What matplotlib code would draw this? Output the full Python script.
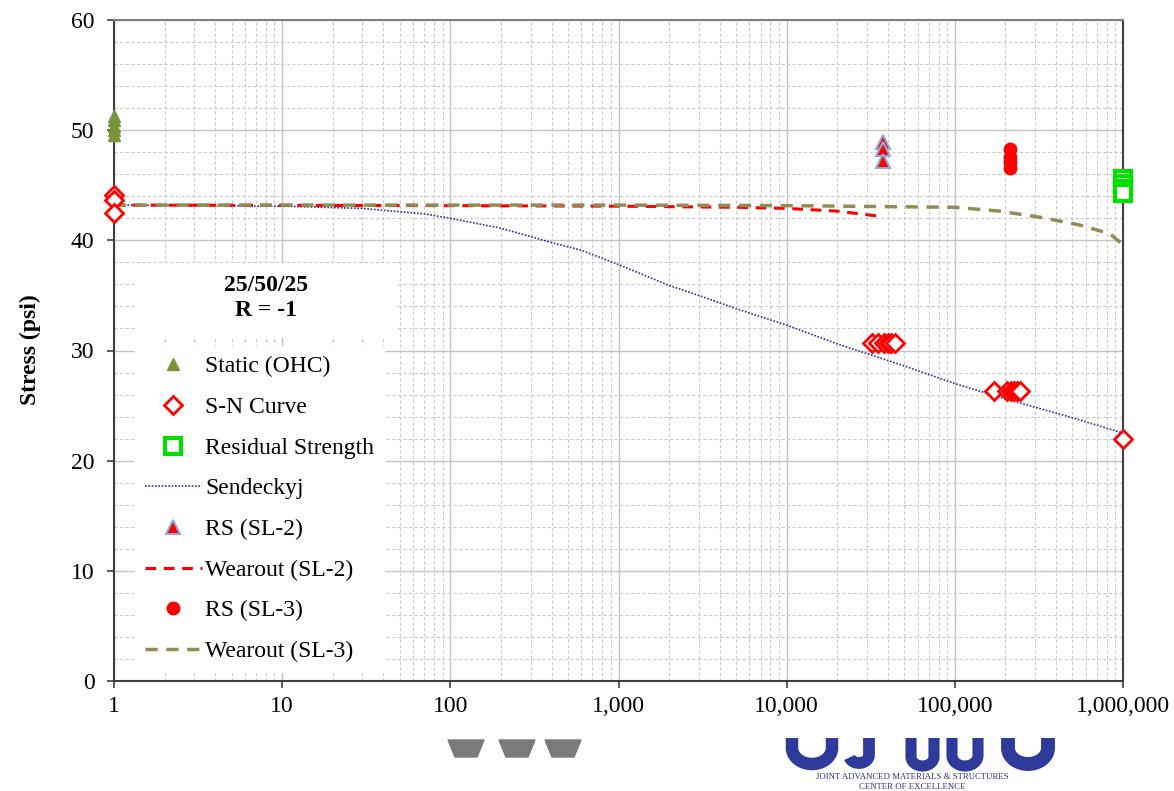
import numpy as np
import matplotlib
matplotlib.use("Agg")
import matplotlib.pyplot as plt
from matplotlib.ticker import FuncFormatter, LogLocator, MultipleLocator, NullFormatter
from matplotlib.patches import Polygon, Rectangle

# --- data (cycles N, stress in psi) ---
static_n = [1, 1, 1, 1, 1]
static_s = [49.6, 50.0, 50.4, 50.9, 51.3]

sn_n = [1, 1, 1,
        32000, 35000, 38000, 40000, 42000, 44000,
        170000, 205000, 215000, 225000, 235000, 245000,
        1000000]
sn_s = [44.1, 43.7, 42.5,
        30.7, 30.7, 30.7, 30.7, 30.7, 30.7,
        26.3, 26.3, 26.3, 26.3, 26.3, 26.3,
        22.0]

resid_n = [1000000, 1000000, 1000000, 1000000]
resid_s = [45.6, 45.1, 44.7, 44.3]

send_n = [1, 10, 30, 70, 100, 200, 400, 600, 1000, 2000, 3000, 5000, 10000,
          20000, 50000, 100000, 200000, 500000, 1000000]
send_s = [43.2, 43.1, 42.9, 42.4, 42.0, 41.1, 39.8, 39.1, 37.8, 35.9, 35.0, 33.8, 32.3,
          30.6, 28.6, 27.0, 25.6, 23.9, 22.5]

rs2_n = [37300, 37300, 37300]
rs2_s = [48.9, 48.3, 47.2]

wear2_n = [1, 100, 1000, 5000, 10000, 20000, 35000]
wear2_s = [43.2, 43.15, 43.1, 43.0, 42.9, 42.65, 42.2]

rs3_n = [212000, 212000, 212000, 212000]
rs3_s = [48.3, 47.6, 47.1, 46.6]

wear3_n = [1, 1000, 10000, 100000, 185000, 320000, 550000, 835000, 1000000]
wear3_s = [43.2, 43.2, 43.15, 43.0, 42.65, 42.1, 41.4, 40.6, 39.6]

W, H = 1174, 791
plt.rcParams['font.family'] = ['Liberation Serif', 'DejaVu Serif']

fig = plt.figure(figsize=(W / 100, H / 100), dpi=100)
fig.patch.set_facecolor('white')


def px(x, y):
    return (x / W, 1 - y / H)


ax = fig.add_axes([114 / W, 1 - 681 / H, (1123 - 114) / W, (681 - 20) / H])

ax.plot(static_n, static_s, ls='none', marker='^', ms=9, color='#77933c',
        label='Static (OHC)', zorder=5, clip_on=False)
ax.plot(sn_n, sn_s, ls='none', marker='D', ms=9, mfc='white', mec='#ff0000',
        mew=2, label='S-N Curve', zorder=6, clip_on=False)
ax.plot(resid_n, resid_s, ls='none', marker='s', ms=11, mfc='white', mec='#00e000',
        mew=3, label='Residual Strength', zorder=6, clip_on=False)
ax.plot(send_n, send_s, ls=(0, (1, 1)), lw=1.2, color='#3030a0', label='Sendeckyj',
        zorder=4)
ax.plot(rs2_n, rs2_s, ls='none', marker='^', ms=10, color='#ff0000', mec='#8eaadb',
        mew=1.5, label='RS (SL-2)', zorder=5)
ax.plot(wear2_n, wear2_s, ls=(0, (3.5, 2.5)), lw=2.2, color='#ff0000',
        label='Wearout (SL-2)', zorder=4)
ax.plot(rs3_n, rs3_s, ls='none', marker='o', ms=9, color='#ff0000',
        label='RS (SL-3)', zorder=5)
ax.plot(wear3_n, wear3_s, ls=(0, (3.5, 2.5)), lw=2.5, color='#948a54',
        label='Wearout (SL-3)', zorder=4)

ax.set_xscale('log')
ax.set_xlim(1, 1e6)
ax.set_ylim(0, 60)
ax.xaxis.set_major_locator(LogLocator(base=10))
ax.xaxis.set_minor_locator(LogLocator(base=10, subs=np.arange(2, 10)))
ax.xaxis.set_minor_formatter(NullFormatter())
ax.xaxis.set_major_formatter(FuncFormatter(lambda v, p: f'{int(round(v)):,}'))
ax.yaxis.set_major_locator(MultipleLocator(10))
ax.yaxis.set_minor_locator(MultipleLocator(2))

ax.grid(which='major', color='#c4c4c4', lw=1.0, ls='-')
ax.grid(which='minor', color='#cccccc', lw=0.8, ls=(0, (3, 2)))
ax.set_axisbelow(True)

ax.tick_params(which='major', direction='out', length=5, width=1.2, color='#404040',
               labelsize=17, pad=6)
ax.tick_params(axis='y', which='major', pad=9)
ax.tick_params(which='minor', length=0)
for side in ['left', 'bottom', 'right']:
    ax.spines[side].set_color('#404040')
    ax.spines[side].set_linewidth(1.5)
ax.spines['top'].set_color('#808080')
ax.spines['top'].set_linewidth(1.5)

fig.text(*px(30, 350), 'Stress (psi)', rotation=90, ha='center', va='center',
         fontsize=17, fontweight='bold')

# layup / load-ratio caption in its own white box above the legend
ax.add_patch(Rectangle(px(135, 338), (397 - 135) / W, (338 - 263) / H,
                       transform=fig.transFigure, facecolor='white',
                       edgecolor='none', zorder=9))
ax.text(*px(266, 298), '25/50/25\nR = -1', transform=fig.transFigure,
        ha='center', va='center', ma='center', fontsize=17, fontweight='bold',
        linespacing=1.25, zorder=11)

leg = ax.legend(loc='lower left', bbox_to_anchor=(21 / 1009, 9 / 661), fontsize=17,
                frameon=True, facecolor='white', edgecolor='white', framealpha=1,
                fancybox=False, labelspacing=0.81, handlelength=2.4,
                handletextpad=0.15, borderpad=0.42, borderaxespad=0)
leg.set_zorder(10)

# --- footer logo ---
for x0 in [448, 499, 545]:
    fig.patches.append(Polygon([px(x0, 740), px(x0 + 36, 740), px(x0 + 29, 757),
                                px(x0 + 7, 757)], closed=True,
                               transform=fig.transFigure, color='#7a7a7a'))

lax = fig.add_axes([780 / W, 1 - 772 / H, (1060 - 780) / W, 34 / H])
lax.set_xlim(780, 1060)
lax.set_ylim(772, 738)
lax.axis('off')
blue = '#2f3b9a'


def u_shape(xl, xr, ybot, lw):
    r = (xr - xl) / 2
    t = np.linspace(np.pi, 0, 30)
    xs = np.concatenate([[xl], xl + r + r * np.cos(t), [xr]])
    ys = np.concatenate([[738], ybot - r * 0.8 + r * 0.8 * np.sin(t), [738]])
    lax.plot(xs, ys, color=blue, lw=lw, solid_capstyle='butt')


u_shape(792, 832, 764, 9)
t = np.linspace(0, np.pi * 0.9, 30)
lax.plot(np.concatenate([[869], 859 + 10 * np.cos(t)]),
         np.concatenate([[738], 755 + 8 * np.sin(t)]), color=blue, lw=8.5,
         solid_capstyle='butt')
u_shape(911, 934, 766, 8)
u_shape(952, 978, 766, 8)
u_shape(1008, 1048, 764, 10)

fig.text(*px(912, 777), 'JOINT ADVANCED MATERIALS & STRUCTURES', ha='center',
         va='center', fontsize=6.3, color='#2a3580')
fig.text(*px(912, 787), 'CENTER OF EXCELLENCE', ha='center', va='center',
         fontsize=6.3, color='#2a3580')

fig.savefig('out.png', dpi=100)
